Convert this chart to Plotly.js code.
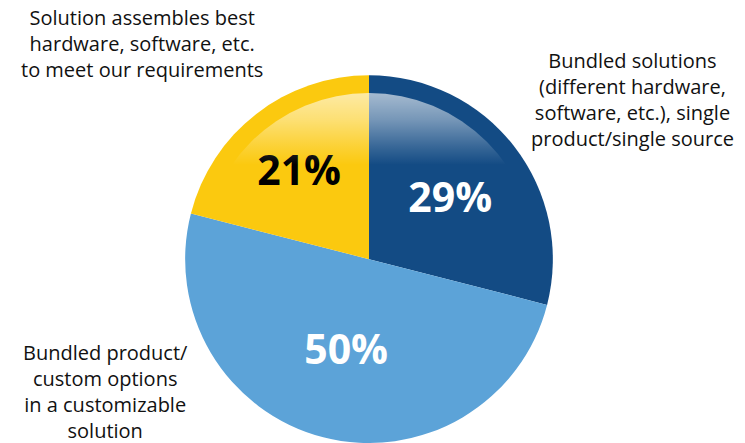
<!DOCTYPE html>
<html>
<head>
<meta charset="utf-8">
<script src="https://cdn.plot.ly/plotly-3.0.1.min.js"></script>
<style>html,body{margin:0;padding:0;background:#fff;}#chart{width:745px;height:443px;}</style>
</head>
<body>
<div id="chart"></div>
<script>
var categories = [
  "Bundled solutions<br>(different hardware,<br>software, etc.), single<br>product/single source",
  "Bundled product/<br>custom options<br>in a customizable<br>solution",
  "Solution assembles best<br>hardware, software, etc.<br>to meet our requirements"
];
var values = [29, 50, 21];
var colors = ["#134b84", "#5ca3d8", "#fbc90f"];
var textColors = ["#ffffff", "#ffffff", "#000000"];

var W = 745, H = 443;
// layout: centre of each outside label block (pixels)
var labelPos = [
  {x: 632, y: 100},
  {x: 105, y: 391},
  {x: 142, y: 44}
];

var trace = {
  type: "pie",
  values: values,
  labels: categories,
  sort: false,
  direction: "clockwise",
  rotation: 0,
  marker: {colors: colors, line: {width: 0}},
  textinfo: "percent",
  texttemplate: "%{percent:.0%}",
  textposition: "inside",
  insidetextorientation: "horizontal",
  textfont: {family: "Open Sans, sans-serif", size: 41, color: textColors, weight: 700},
  hoverinfo: "none",
  showlegend: false,
  domain: {x: [185 / W, 553 / W], y: [0, 0.83]}
};

var annotations = categories.map(function (c, i) {
  return {
    text: c,
    xref: "paper", yref: "paper",
    x: labelPos[i].x / W, y: 1 - labelPos[i].y / H,
    xanchor: "center", yanchor: "middle",
    align: "center",
    showarrow: false,
    font: {family: "Open Sans, sans-serif", size: 20, color: "#111111"}
  };
});

// glossy highlight overlay (decorative)
var hr = 167, cx = 369, cy = 260;
var svg = '<svg xmlns="http://www.w3.org/2000/svg" width="334" height="334" viewBox="0 0 334 334">' +
  '<defs><linearGradient id="g" x1="0" y1="0" x2="0" y2="1">' +
  '<stop offset="0" stop-color="#fff" stop-opacity="0.62"/>' +
  '<stop offset="0.08" stop-color="#fff" stop-opacity="0.42"/>' +
  '<stop offset="0.16" stop-color="#fff" stop-opacity="0.16"/>' +
  '<stop offset="0.215" stop-color="#fff" stop-opacity="0"/>' +
  '</linearGradient></defs>' +
  '<circle cx="167" cy="167" r="167" fill="url(#g)"/></svg>';
var images = [{
  source: "data:image/svg+xml;charset=utf-8," + encodeURIComponent(svg),
  xref: "paper", yref: "paper",
  x: (cx - hr) / W, y: 1 - (cy - hr) / H,
  sizex: 2 * hr / W, sizey: 2 * hr / H,
  sizing: "stretch", xanchor: "left", yanchor: "top",
  layer: "above"
}];

Plotly.newPlot("chart", [trace], {
  width: W, height: H,
  margin: {l: 0, r: 0, t: 0, b: 0},
  paper_bgcolor: "#ffffff",
  annotations: annotations,
  images: images
}, {displayModeBar: false, staticPlot: true});
</script>
</body>
</html>
